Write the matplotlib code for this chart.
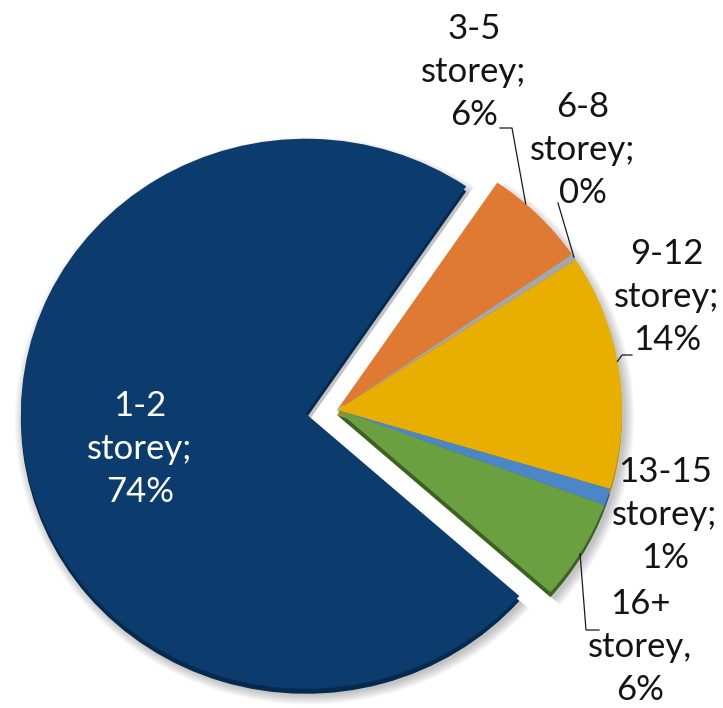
import numpy as np
import matplotlib.pyplot as plt

plt.rcParams['font.family'] = ['Lato', 'DejaVu Sans']

storeys = ['1-2', '3-5', '6-8', '9-12', '13-15', '16+']
shares = [74, 6, 0.4, 14, 1, 6]
seps = [';', ';', ';', ';', ';', ',']

colors = ['#0c3c6e', '#e07a33', '#a7a7a7', '#e8ae00', '#4b87c6', '#6aa040']
sides = ['#062a4e', '#a8561c', '#7d7d7d', '#b98a00', '#2e5f94', '#3b6124']

W, H = 723, 708
YS = 0.965      # vertical squash, pie is slightly tilted
CX, CY = 337, 410
R = 285
START = -41.5
# pie offsets are in data units, not radius fractions
explode = [0.11 * R, 0, 0, 0, 0, 0]


def to_data(px, py):
    return px, (H - py) / YS


fig = plt.figure(figsize=(W / 100, H / 100), dpi=100)
ax = fig.add_axes([0, 0, 1, 1])
cx, cy = to_data(CX, CY)

# soft drop shadow
for k in range(7):
    ax.pie(shares, radius=R + 1.5 * k, center=(cx + 3, cy - 7 / YS),
           startangle=START, counterclock=False, explode=explode,
           colors=['black'] * len(shares),
           wedgeprops=dict(linewidth=0, alpha=0.035))

# slice thickness
ax.pie(shares, radius=R, center=(cx, cy - 5 / YS), startangle=START,
       counterclock=False, explode=explode, colors=sides,
       wedgeprops=dict(linewidth=0))

wedges, _ = ax.pie(shares, radius=R, center=(cx, cy), startangle=START,
                   counterclock=False, explode=explode, colors=colors,
                   wedgeprops=dict(linewidth=0))

ax.set_aspect('auto')
ax.set_xlim(0, W)
ax.set_ylim(0, H / YS)
ax.axis('off')


def arc_point(w, frac, extra=0):
    ang = np.deg2rad(w.theta1 + frac * (w.theta2 - w.theta1))
    return (w.center[0] + (w.r + extra) * np.cos(ang),
            w.center[1] + (w.r + extra) * np.sin(ang))


label_pos = [(140, 449), (474, 72), (583, 150), (667, 297), (665, 515), (640, 647)]
for name, v, s, (lx, ly), i in zip(storeys, shares, seps, label_pos, range(6)):
    x, y = to_data(lx, ly)
    ax.text(x, y, f'{name}\nstorey{s}\n{round(v)}%', ha='center', va='center',
            fontsize=25, linespacing=1.42,
            color='white' if i == 0 else '#141414')

# leader lines: elbow points in pixels, end on the slice edge
leaders = [
    (1, 0.66, [(500, 128), (512, 128)]),
    (2, 0.5, [(558, 203)]),
    (3, 0.54, [(632, 355), (622, 355)]),
    (5, 0.47, [(599, 630), (586, 630)]),
]
for idx, frac, pts in leaders:
    xs = [to_data(*p)[0] for p in pts]
    ys = [to_data(*p)[1] for p in pts]
    ex, ey = arc_point(wedges[idx], frac)
    ax.plot(xs + [ex], ys + [ey], color='#1a1a1a', lw=0.9)

fig.savefig('out.png', dpi=100)
